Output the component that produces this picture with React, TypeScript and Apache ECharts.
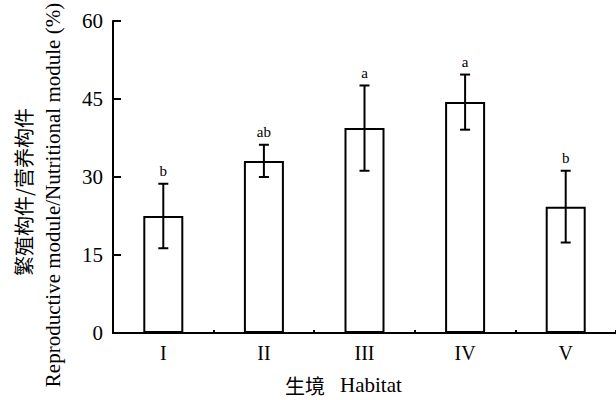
import React, { useEffect, useRef } from "react";
import * as echarts from "echarts";

const categories = ["I", "II", "III", "IV", "V"];
const means = [22.5, 33.1, 39.4, 44.4, 24.3];
const errors = [6.2, 3.1, 8.2, 5.3, 6.9];
const letters = ["b", "ab", "a", "a", "b"];
const yTicks = { min: 0, max: 60, interval: 15 };

const EN = "Times New Roman";
const CN = "Noto Sans CJK SC";

export default function App() {
  const ref = useRef<HTMLDivElement>(null);
  useEffect(() => {
    if (!ref.current) return;
    const chart = echarts.init(ref.current, undefined, { renderer: "svg" });
    const errData = means.map((m, i) => [i, m - errors[i], m + errors[i]]);
    chart.setOption({
      animation: false,
      backgroundColor: "#ffffff",
      textStyle: { fontFamily: EN },
      grid: { left: 113, right: 0, top: 21, bottom: 67, containLabel: false },
      xAxis: {
        type: "category",
        data: categories,
        boundaryGap: true,
        axisLine: { lineStyle: { color: "#000", width: 2 } },
        axisTick: { show: true, inside: true, length: 3, lineStyle: { color: "#000", width: 2 } },
        axisLabel: { color: "#000", fontSize: 20, fontFamily: EN, margin: 10 },
      },
      yAxis: {
        type: "value",
        min: yTicks.min,
        max: yTicks.max,
        interval: yTicks.interval,
        axisLine: { show: true, lineStyle: { color: "#000", width: 2 } },
        axisTick: { show: true, inside: true, length: 8, lineStyle: { color: "#000", width: 2 } },
        axisLabel: { color: "#000", fontSize: 21, fontFamily: EN, margin: 10 },
        splitLine: { show: false },
      },
      graphic: [
        {
          type: "text",
          x: 23,
          y: 192,
          rotation: Math.PI / 2,
          style: {
            text: "繁殖构件/营养构件",
            fontSize: 20,
            fontFamily: CN,
            fill: "#000",
            align: "center",
            verticalAlign: "middle",
          },
        },
        {
          type: "text",
          x: 53,
          y: 195,
          rotation: Math.PI / 2,
          style: {
            text: "Reproductive module/Nutritional module (%)",
            fontSize: 21,
            fontFamily: EN,
            fill: "#000",
            align: "center",
            verticalAlign: "middle",
          },
        },
        {
          type: "text",
          x: 285,
          y: 385,
          style: {
            text: "生境",
            fontSize: 20,
            fontFamily: CN,
            fill: "#000",
            align: "left",
            verticalAlign: "middle",
          },
        },
        {
          type: "text",
          x: 340,
          y: 385,
          style: {
            text: "Habitat",
            fontSize: 21,
            fontFamily: EN,
            fill: "#000",
            align: "left",
            verticalAlign: "middle",
          },
        },
      ],
      series: [
        {
          type: "bar",
          data: means,
          barWidth: 40,
          itemStyle: { color: "#fff", borderColor: "#000", borderWidth: 2 },
          z: 2,
        },
        {
          type: "custom",
          data: errData,
          z: 3,
          renderItem: (params: any, api: any) => {
            const idx = api.value(0);
            const lo = api.coord([idx, api.value(1)]);
            const hi = api.coord([idx, api.value(2)]);
            const x = lo[0];
            const cap = 5;
            const style = { stroke: "#000", lineWidth: 2 };
            return {
              type: "group",
              children: [
                { type: "line", shape: { x1: x, y1: lo[1], x2: x, y2: hi[1] }, style },
                { type: "line", shape: { x1: x - cap, y1: hi[1], x2: x + cap, y2: hi[1] }, style },
                { type: "line", shape: { x1: x - cap, y1: lo[1], x2: x + cap, y2: lo[1] }, style },
                {
                  type: "text",
                  x: x,
                  y: hi[1] - 5,
                  style: {
                    text: letters[params.dataIndex],
                    fontSize: 15,
                    fontFamily: EN,
                    fill: "#000",
                    align: "center",
                    verticalAlign: "bottom",
                  },
                },
              ],
            };
          },
        },
      ],
    });
    return () => chart.dispose();
  }, []);
  return (
    <div
      ref={ref}
      style={{ position: "fixed", left: 0, top: 0, width: 616, height: 400, background: "#fff" }}
    />
  );
}
